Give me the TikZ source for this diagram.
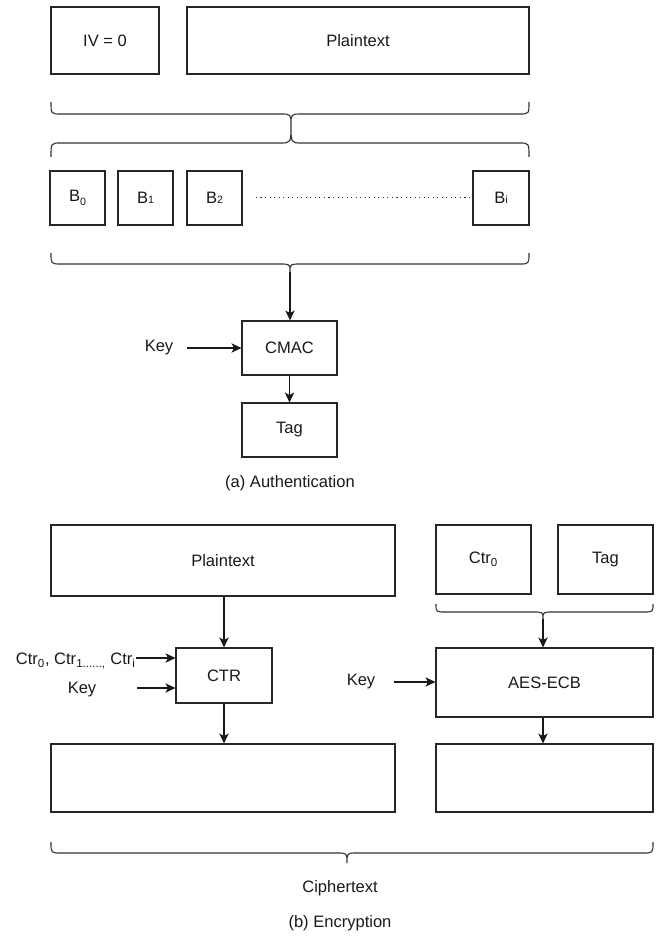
\documentclass[tikz,border=0pt]{standalone}
\usepackage{fontspec}
\setmainfont{Liberation Sans}
\usetikzlibrary{fit,arrows.meta}
\begin{document}
\begin{tikzpicture}[x=0.75pt,y=-0.75pt,
  every node/.style={font=\fontsize{12.4}{14}\selectfont, text=black!90},
  box/.style={draw=black!85, line width=0.85pt, inner sep=0pt},
  arr/.style={draw=black!90, line width=0.85pt, -{Stealth[length=7.5pt,width=7pt,inset=2pt]}},
  brc/.style={draw=black!80, line width=0.85pt},
  lbl/.style={inner sep=0pt}]
\useasboundingbox (0,0) rectangle (665,941);

% (a) Authentication
\node[box, fit={(51,7) (159,74)}, label=center:{IV = 0}] (iv) {};
\node[box, fit={(187,7) (529,74)}, label=center:Plaintext] (pt1) {};

\draw[brc] (51,102) .. controls (51,114) .. (61,114) -- (280,114) .. controls (291,114) .. (291,125)
  .. controls (291,114) .. (302,114) -- (519,114) .. controls (529,114) .. (529,102);
\draw[brc] (51,157) .. controls (51,143) .. (61,143) -- (280,143) .. controls (291,143) .. (291,125)
  .. controls (291,143) .. (302,143) -- (519,143) .. controls (529,143) .. (529,157);

\node[box, fit={(50,171) (105,225)}, label=center:{B\raisebox{-0.45ex}{\footnotesize 0}}] (b0) {};
\node[box, fit={(118,171) (173,225)}, label=center:{B{\footnotesize 1}}] (b1) {};
\node[box, fit={(187,171) (242,225)}, label=center:{B{\footnotesize 2}}] (b2) {};
\node[box, fit={(473,171) (529,225)}, label=center:{B{\footnotesize i}}] (bi) {};
\draw[black!80, line width=0.75pt, dash pattern=on 0.8pt off 2.6pt] ([xshift=10pt]b2.east) -- ([xshift=-2pt]bi.west);

\draw[brc] (51,253) .. controls (51,264) .. (61,264) -- (279,264) .. controls (290,264) .. (290,272)
  .. controls (290,264) .. (301,264) -- (519,264) .. controls (529,264) .. (529,253);
\coordinate (btip) at (290,272);

\node[box, fit={(242,321) (337,375)}, label=center:CMAC] (cmac) {};
\node[box, fit={(242,403) (337,457)}, label=center:Tag] (tag1) {};
\node[lbl] (key1) at (159,348) {Key};
\draw[arr] (btip) -- (cmac.north -| btip);
\draw[arr] (187,348) -- (cmac.west);
\draw[arr] (cmac.south) -- (tag1.north);
\node[lbl] (capa) at (290,483) {(a) Authentication};

% (b) Encryption
\node[box, fit={(51,525) (395,596)}, label=center:Plaintext] (pt2) {};
\node[box, fit={(436,525) (531,594)}, label=center:{Ctr\textsubscript{0}}] (ctr0) {};
\node[box, fit={(558,525) (653,594)}, label=center:Tag] (tag2) {};

\draw[brc] (436,604) .. controls (436,612) .. (446,612) -- (533,612) .. controls (543,612) .. (543,619)
  .. controls (543,612) .. (553,612) -- (643,612) .. controls (653,612) .. (653,604);
\coordinate (ctip) at (543,619);

\node[box, fit={(176,648) (272,703)}, label=center:CTR] (ctr) {};
\node[box, fit={(436,648) (653,717)}, label=center:AES-ECB] (aes) {};
\node[box, fit={(51,744) (395,812)}] (out1) {};
\node[box, fit={(436,744) (653,812)}] (out2) {};

\node[lbl, anchor=east] (ctrs) at (136,661) {Ctr\textsubscript{0}, Ctr\textsubscript{1......,} Ctr\textsubscript{i}};
\node[lbl] (key2) at (82,690) {Key};
\node[lbl] (key3) at (361,682) {Key};

\draw[arr] (pt2.south -| ctr.north) -- (ctr.north);
\draw[arr] (ctrs.east |- 0,658) -- (ctr.west |- 0,658);
\draw[arr] (137,688) -- (ctr.west |- 0,688);
\draw[arr] (ctr.south) -- (ctr.south |- out1.north);
\draw[arr] (ctip) -- (aes.north -| ctip);
\draw[arr] (394,682) -- (aes.west |- 0,682);
\draw[arr] (aes.south -| ctip) -- (out2.north -| ctip);

\draw[brc] (51,842) .. controls (51,853) .. (61,853) -- (337,853) .. controls (347,853) .. (347,863)
  .. controls (347,853) .. (357,853) -- (643,853) .. controls (653,853) .. (653,842);
\node[lbl] (cipher) at (340,888) {Ciphertext};
\node[lbl] (capb) at (340,923) {(b) Encryption};
\end{tikzpicture}
\end{document}
